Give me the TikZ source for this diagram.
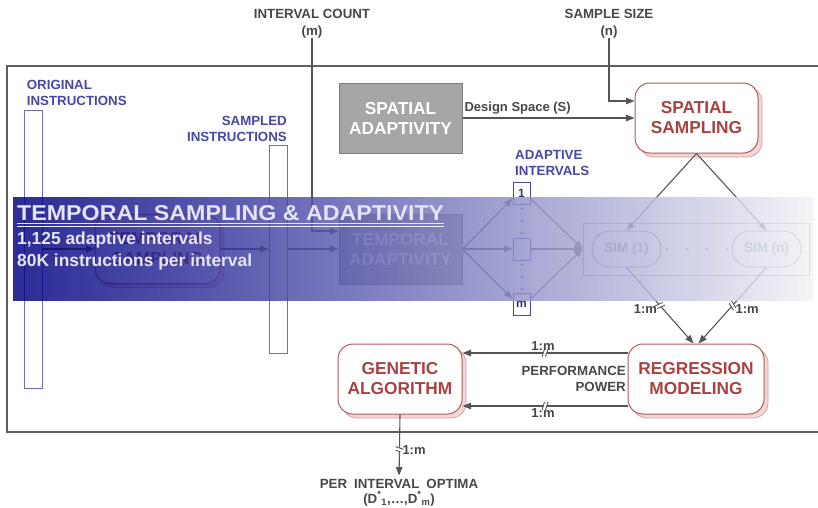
\documentclass[tikz,border=0pt]{standalone}
\usepackage{fontspec}
\setmainfont{Liberation Sans}
\usepackage{graphicx}
\usetikzlibrary{arrows.meta,shadows,decorations.markings}

\definecolor{linegray}{HTML}{555555}
\definecolor{framegray}{HTML}{5E5E5E}
\definecolor{labelgray}{HTML}{474747}
\definecolor{redline}{HTML}{B25A5A}
\definecolor{redtext}{HTML}{A84343}
\definecolor{pinkfill}{HTML}{F3D6D6}
\definecolor{pinkline}{HTML}{D9A0A0}
\definecolor{boxgray}{HTML}{A6A6A6}
\definecolor{boxgrayline}{HTML}{7E7E7E}
\definecolor{instblue}{HTML}{4747A6}
\definecolor{barblue}{HTML}{6B6BC4}
\definecolor{simgreen}{HTML}{6E9A78}
\definecolor{bandtext}{HTML}{E4E4F4}

\tikzset{
  wire/.style={draw=linegray, line width=1.1pt},
  conn/.style={wire, -{Triangle[length=8.5pt,width=6.5pt]}},
  redbox/.style={draw=redline, line width=1pt, fill=white, rounded corners=15pt,
    align=center, text=redtext, inner sep=0pt,
    font=\fontsize{17.3}{20}\selectfont\bfseries,
    copy shadow={shadow xshift=4pt, shadow yshift=-4pt, fill=pinkfill, draw=pinkline, line width=0.8pt}},
  graybox/.style={draw=boxgrayline, line width=1pt, fill=boxgray, align=center,
    text=white, inner sep=0pt, minimum width=123pt, minimum height=70pt,
    font=\fontsize{17.3}{20}\selectfont\bfseries},
  instbar/.style={draw=barblue, line width=1pt, fill=white, minimum width=18pt, inner sep=0pt},
  ivbox/.style={draw=instblue, line width=1pt, fill=white, minimum width=17pt,
    minimum height=22pt, inner sep=0pt, text=instblue!70!black,
    font=\fontsize{12}{14}\selectfont\bfseries},
  bluelabel/.style={text=instblue, inner sep=0pt, font=\fontsize{13.3}{16}\selectfont\bfseries},
  graylabel/.style={text=labelgray, inner sep=0pt, font=\fontsize{13.3}{16}\selectfont\bfseries},
  lbl/.style={text=labelgray, inner sep=1.5pt, font=\fontsize{13}{15}\selectfont\bfseries},
  simbox/.style={draw=simgreen, line width=1pt, rounded corners=18pt, minimum width=69pt,
    minimum height=36pt, inner sep=0pt, text=simgreen, font=\fontsize{13.5}{16}\selectfont\bfseries},
  smalldot/.style={circle, fill=#1, inner sep=0pt, minimum size=3.4pt},
  breakmark/.style={postaction={decorate}, decoration={markings,
    mark=at position #1 with {
      \fill[white] (-2pt,-3pt) rectangle (2pt,3pt);
      \draw[-, draw=linegray, line width=0.9pt] (-3pt,-4pt) -- (-0.5pt,4pt) (0.5pt,-4pt) -- (3pt,4pt);}}},
  bandtxt/.style={anchor=base west, inner sep=0pt, text=bandtext},
}

\begin{document}
\begin{tikzpicture}[x=1pt,y=-1pt]
\useasboundingbox (0,0) rectangle (818,507);

% outer frame (open to the right)
\draw[framegray, line width=1.8pt] (830,66) -- (7,66) -- (7,432) -- (830,432);

% inputs at the top
\node[graylabel, anchor=base] (icnt) at (312,18) {INTERVAL COUNT};
\node[graylabel, anchor=base] (mcnt) at (312,35) {(m)};
\node[graylabel, anchor=base] (ssz) at (609,18) {SAMPLE SIZE};
\node[graylabel, anchor=base] (nsz) at (609,35) {(n)};

% instruction streams
\node[instbar, minimum height=278pt] (ob) at (33,249) {};
\node[instbar, minimum height=208pt] (sb) at (278,249) {};
\node[bluelabel, anchor=base west] at (26.7,89) {ORIGINAL};
\node[bluelabel, anchor=base west] at (26.7,105.7) {INSTRUCTIONS};
\node[bluelabel, anchor=base east] at (287,125) {SAMPLED};
\node[bluelabel, anchor=base east] at (287,141) {INSTRUCTIONS};

% main blocks
\node[graybox] (sa) at (400.5,118) {SPATIAL\\ADAPTIVITY};
\node[redbox, minimum width=123pt, minimum height=70pt] (ss) at (696.5,118) {SPATIAL\\SAMPLING};
\node[redbox, minimum width=125pt, minimum height=69pt] (ts) at (157.5,249) {TEMPORAL\\SAMPLING};
\node[graybox] (ta) at (400.5,249) {TEMPORAL\\ADAPTIVITY};
\node[redbox, minimum width=136pt, minimum height=70pt] (rm) at (696,379) {REGRESSION\\MODELING};
\node[redbox, minimum width=124pt, minimum height=70pt] (ga) at (400,379) {GENETIC\\ALGORITHM};

% adaptive intervals
\node[bluelabel, anchor=base west] at (515,159.7) {ADAPTIVE};
\node[bluelabel, anchor=base west] at (515,175.7) {INTERVALS};
\node[ivbox] (i1) at (521.5,193) {1};
\node[ivbox] (i2) at (521.5,249) {};
\node[ivbox] (im) at (521.5,304.5) {m};
\foreach \yy in {209,221,233,265,277,289}
  \node[smalldot=instblue!80] at (522,\yy) {};

% simulations
\node[draw=simgreen!85, line width=0.9pt, minimum width=226pt, minimum height=52pt, inner sep=0pt] (simc) at (696,249) {};
\node[simbox] (s1) at (626.5,249) {SIM (1)};
\node[simbox] (sn) at (766.5,249) {SIM (n)};
\foreach \xx in {667,687,707,727}
  \node[smalldot=simgreen] at (\xx,249) {};

% connectors
\draw[conn] (mcnt.south) |- ([yshift=18pt]ta.west);
\draw[conn] (nsz.south) |- ([yshift=17pt]ss.west);
\draw[conn] (sa.east) -- node[lbl, anchor=base west, pos=0, xshift=1.5pt, yshift=6.5pt, inner sep=0pt] {Design Space (S)} (ss.west);
\draw[conn] (ob.east) -- (ts.west);
\draw[conn] (ts.east) -- (sb.west);
\draw[conn] (sb.east) -- (ta.west);
\draw[conn] (ta.east) -- ([yshift=6pt]i1.south west);
\draw[conn] (ta.east) -- (i2.west);
\draw[conn] (ta.east) -- ([yshift=-6pt]im.north west);
\draw[conn] ([yshift=6pt]i1.south east) -- (simc.west);
\draw[conn] (i2.east) -- (simc.west);
\draw[conn] ([yshift=-6pt]im.north east) -- (simc.west);
\draw[conn] (ss.south) -- (s1.north);
\draw[conn] (ss.south) -- (sn.north);
\draw[conn, breakmark=0.5] (s1.south) -- node[lbl, pos=0.5, anchor=east, xshift=-1pt, yshift=-4pt] {1:m} ([xshift=-2.5pt]rm.north);
\draw[conn, breakmark=0.5] (sn.south) -- node[lbl, pos=0.5, anchor=west, xshift=1pt, yshift=-4pt] {1:m} ([xshift=2.5pt]rm.north);
\draw[conn, breakmark=0.5] ([yshift=26pt]rm.west) -- node[lbl, pos=0.5, above, xshift=-2pt] {1:m} ([yshift=26pt]ga.east);
\draw[conn, breakmark=0.5] ([yshift=-27pt]rm.west) -- node[lbl, pos=0.5, below, xshift=-2pt] {1:m} ([yshift=-27pt]ga.east);
\node[graylabel, anchor=base east] at (626,375) {PERFORMANCE};
\node[graylabel, anchor=base east] at (626,391.7) {POWER};

% output
\node[graylabel, anchor=base] (opt) at (399,488) {PER\hspace{7pt}INTERVAL\hspace{7pt}OPTIMA};
\node[graylabel, anchor=base] at (399,503) {(D\textsuperscript{*}\textsubscript{1},\ldots,D\textsuperscript{*}\textsubscript{m})};
\draw[conn, breakmark=0.55, shorten >=3pt] (ga.south) -- node[lbl, pos=0.55, right, xshift=1pt] {1:m} (opt.north);

% translucent temporal band: flat stripes, deep blue fading to white
\foreach \x in {13,17,...,809} {
  \pgfmathsetmacro\tt{(\x-13)/797}
  \pgfmathtruncatemacro\rr{max(0,min(255,(45+200*(\tt^1.1)-46)/0.82))}
  \pgfmathtruncatemacro\bb{max(0,min(255,(150+98*\tt-46)/0.82))}
  \definecolor{stripe}{RGB}{\rr,\rr,\bb}
  \fill[stripe, fill opacity=0.82] (\x,197) rectangle (\x+4,301);
}
\node[bandtxt, font=\fontsize{21.5}{24}\selectfont\bfseries] (title) at (17,220.7)
  {\scalebox{1.08}[1]{TEMPORAL SAMPLING \& ADAPTIVITY}};
\draw[bandtext!85, line width=0.7pt] ([yshift=-2.5pt]title.base west) -- ([yshift=-2.5pt]title.base east);
\draw[bandtext!60, line width=0.7pt] ([yshift=-5.5pt]title.base west) -- ([yshift=-5.5pt]title.base east);
\node[bandtxt, font=\fontsize{17.4}{20}\selectfont\bfseries] at (17,244.3) {1,125 adaptive intervals};
\node[bandtxt, font=\fontsize{17.4}{20}\selectfont\bfseries] at (17,266) {80K instructions per interval};
\end{tikzpicture}
\end{document}
